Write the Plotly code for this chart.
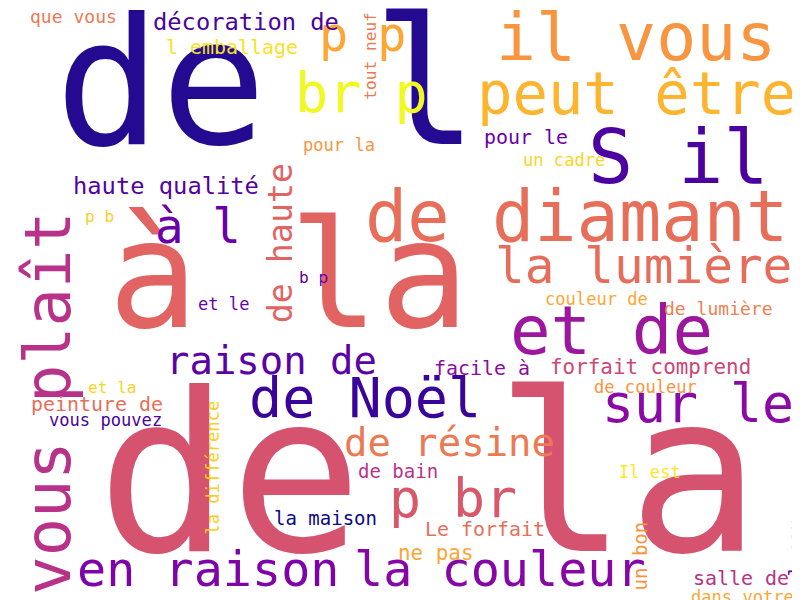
import plotly.graph_objects as go

words = ["de l", "à la", "de la", "il vous", "peut être", "p p", "br p", "S il",
         "de diamant", "la lumière", "et de", "sur le", "de Noël", "raison de", "à l",
         "de haute", "vous plaît", "en raison", "la couleur", "p br", "de résine",
         "haute qualité", "décoration de", "l emballage", "que vous", "tout neuf",
         "pour la", "pour le", "un cadre", "p b", "b p", "et le", "couleur de",
         "de lumière", "facile à", "forfait comprend", "de couleur", "et la",
         "peinture de", "vous pouvez", "la différence", "de bain", "Il est",
         "la maison", "Le forfait", "un bon", "l eau", "ne pas", "salle de", "dans votre"]
xs = [258, 280, 420, 628, 628, 355, 353, 670, 568, 635, 603, 690, 357, 263, 190,
      275, 45, 200, 492, 445, 441, 158, 238, 224, 65, 363, 331, 518, 556, 91, 305,
      215, 588, 710, 474, 642, 637, 104, 89, 97, 206, 390, 642, 317, 477, 634, 790,
      427, 733, 734]
ys = [90, 280, 485, 35, 90, 30, 90, 155, 215, 262, 328, 400, 395, 356, 222,
      235, 395, 565, 565, 495, 438, 180, 16, 41, 10, 48, 138, 131, 153, 210, 271,
      297, 292, 302, 362, 361, 380, 381, 398, 413, 460, 465, 465, 512, 523, 548, 540,
      547, 572, 590]
sizes = [185, 158, 232, 70, 62, 51, 58, 79, 74, 52, 71, 56, 58, 41, 50,
         35, 67, 51, 51, 56, 41, 25, 25, 21, 19, 17, 18, 21, 18, 17, 17,
         18, 18, 19, 21, 22, 18, 17, 21, 18, 18, 20, 18, 20, 21, 20, 20,
         22, 21, 18]
angles = [0, 0, 0, 0, 0, 0, 0, 0, 0, 0, 0, 0, 0, 0, 0,
          -90, -90, 0, 0, 0, 0, 0, 0, 0, 0, -90, 0, 0, 0, 0, 0,
          0, 0, 0, 0, 0, 0, 0, 0, 0, -90, 0, 0, 0, 0, -90, -90,
          0, 0, 0]
colors = ["#240991", "#e16462", "#d5536f", "#f89540", "#fdb42f", "#fca636", "#f0f921",
          "#4c02a1", "#e76f5a", "#e66c5c", "#9c179e", "#8b0aa5", "#3a049a", "#5c01a6",
          "#6a00a8", "#e16462", "#b83289", "#7e03a8", "#8606a6", "#d8576b", "#ed7953",
          "#5302a3", "#4903a0", "#f7e225", "#ed7953", "#ed7953", "#f89441", "#6a00a8",
          "#fbd524", "#fcce25", "#5c01a6", "#6a00a8", "#fca636", "#f07f4f", "#8b0aa5",
          "#cc4778", "#f89540", "#fbd524", "#e76f5a", "#4903a0", "#fcce25", "#b83289",
          "#fde724", "#0d0887", "#e76f5a", "#f89540", "#6a00a8", "#fca636", "#b83289",
          "#fca636"]

fig = go.Figure()
for w, x, y, s, a, c in zip(words, xs, ys, sizes, angles, colors):
    # rendered glyphs sit a bit low / wide; nudge toward the word's ink centre
    if a == 0:
        y = y - 0.08 * s
    else:
        x = x - 0.08 * s
    fig.add_annotation(x=x, y=y, text=w, showarrow=False, textangle=a,
                       xanchor="center", yanchor="middle",
                       font=dict(family="DejaVu Sans Mono", size=s * 0.95, color=c))

fig.update_layout(width=800, height=600, margin=dict(l=0, r=0, t=0, b=0),
                  plot_bgcolor="white", paper_bgcolor="white",
                  xaxis=dict(range=[0, 800], visible=False),
                  yaxis=dict(range=[600, 0], visible=False))
fig.write_html("out.html")
